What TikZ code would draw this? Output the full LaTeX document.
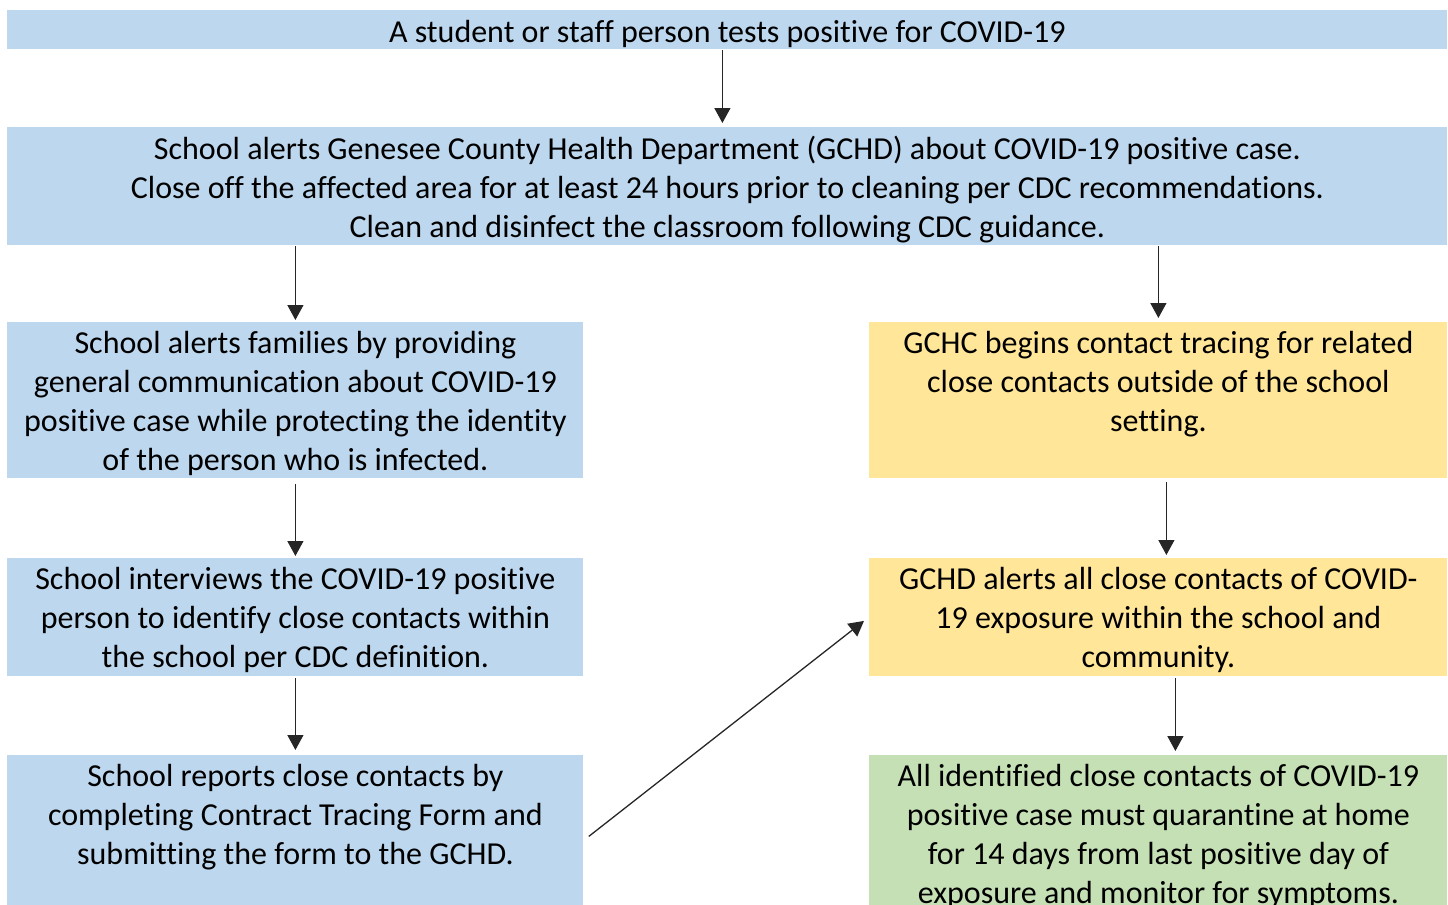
\documentclass[tikz,border=0pt]{standalone}
\usepackage{fontspec}
\setmainfont{Carlito}[Ligatures=NoCommon]
\usetikzlibrary{positioning, arrows.meta, calc}
\definecolor{boxblue}{HTML}{BDD7EE}
\definecolor{boxyellow}{HTML}{FFE699}
\definecolor{boxgreen}{HTML}{C5E0B4}
\tikzset{
        stepbox/.style={
            rectangle, fill=#1, anchor=north west, inner sep=0pt
        },
        boxtext/.style={
            anchor=north, align=center, inner sep=0pt,
            font=\fontsize{16}{19.5}\selectfont, execute at begin node=\strut
        },
        flow/.style={
            draw=black!85, line width=0.65pt, -{Triangle[length=7.5pt, width=8pt]}
        },
}

\begin{document}
\begin{tikzpicture}[x=0.5pt, y=-0.5pt]
        \useasboundingbox (0,0) rectangle (1448,905);

        %DRAW BOXES (placed at their top left corners)
        \node [stepbox=boxblue,   minimum width=720pt, minimum height=19.5pt] (alert)      at (7,10)    {};
        \node [stepbox=boxblue,   minimum width=720pt, minimum height=59pt]   (gchd)       at (7,127)   {};
        \node [stepbox=boxblue,   minimum width=288pt, minimum height=78pt]   (families)   at (7,322)   {};
        \node [stepbox=boxblue,   minimum width=288pt, minimum height=59pt]   (interview)  at (7,558)   {};
        \node [stepbox=boxblue,   minimum width=288pt, minimum height=75pt]   (report)     at (7,755)   {};
        \node [stepbox=boxyellow, minimum width=289pt, minimum height=78pt]   (tracing)    at (869,322) {};
        \node [stepbox=boxyellow, minimum width=289pt, minimum height=59pt]   (notify)     at (869,558) {};
        \node [stepbox=boxgreen,  minimum width=289pt, minimum height=75pt]   (quarantine) at (869,755) {};

        %DRAW TEXTS (first line hangs a fixed drop below the box top)
        \node [boxtext] (alert-t)      at ([yshift=-2.3pt]alert.north)
              {A student or staff person tests positive for COVID-19};
        \node [boxtext] (gchd-t)       at ([yshift=-4.5pt]gchd.north)
              {School alerts Genesee County Health Department (GCHD) about COVID-19 positive case.\\
               Close off the affected area for at least 24 hours prior to cleaning per CDC recommendations.\\
               Clean and disinfect the classroom following CDC guidance.};
        \node [boxtext] (families-t)   at ([yshift=-4.5pt]families.north)
              {School alerts families by providing\\ general communication about COVID-19\\
               positive case while protecting the identity\\ of the person who is infected.};
        \node [boxtext] (interview-t)  at ([yshift=-4.5pt]interview.north)
              {School interviews the COVID-19 positive\\ person to identify close contacts within\\
               the school per CDC definition.};
        \node [boxtext] (report-t)     at ([yshift=-4.5pt]report.north)
              {School reports close contacts by\\ completing Contract Tracing Form and\\
               submitting the form to the GCHD.};
        \node [boxtext] (tracing-t)    at ([yshift=-4.5pt]tracing.north)
              {GCHC begins contact tracing for related\\ close contacts outside of the school\\ setting.};
        \node [boxtext] (notify-t)     at ([yshift=-4.5pt]notify.north)
              {GCHD alerts all close contacts of COVID-\\ 19 exposure within the school and\\ community.};
        \node [boxtext] (quarantine-t) at ([yshift=-4.5pt]quarantine.north)
              {All identified close contacts of COVID-19\\ positive case must quarantine at home\\
               for 14 days from last positive day of\\ exposure and monitor for symptoms.};

        % CONNECT BOXES
        \draw [flow] ([xshift=-2.5pt]alert.south) -- ([xshift=-2.5pt,yshift=2pt]gchd.north);
        \draw [flow] (gchd.south -| families.south) -- ([yshift=1pt]families.north);
        \draw [flow] (gchd.south -| tracing.south) -- ([yshift=2pt]tracing.north);
        \draw [flow] ([yshift=-2.5pt]families.south) -- ([yshift=1pt]interview.north);
        \draw [flow] ([yshift=-0.5pt]interview.south) -- ([yshift=2.5pt]report.north);
        \draw [flow] ([xshift=4pt,yshift=-1.5pt]tracing.south) -- ([xshift=4pt,yshift=1.5pt]notify.north);
        \draw [flow] ([xshift=8.5pt,yshift=-0.5pt]notify.south) -- ([xshift=8.5pt,yshift=2pt]quarantine.north);
        \draw [flow] ([xshift=2.5pt,yshift=-3pt]report.east) -- ([xshift=-2.5pt,yshift=-1.75pt]notify.west);

    \end{tikzpicture}
\end{document}
